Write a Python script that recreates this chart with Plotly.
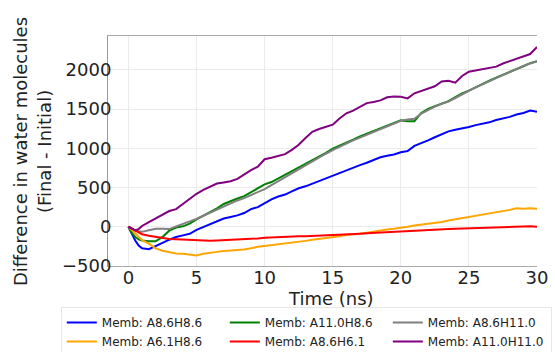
import plotly.graph_objects as go

time_ns = [0, 0.25, 0.5, 0.75, 1, 1.5, 2, 2.5, 3, 3.5, 4, 4.5, 5, 5.5, 6, 6.5, 7, 7.5, 8, 8.5,
           9, 9.5, 10, 10.5, 11, 11.5, 12, 12.5, 13, 13.5, 14, 14.5, 15, 15.5, 16, 16.5, 17,
           17.5, 18, 18.5, 19, 19.5, 20, 20.5, 21, 21.5, 22, 22.5, 23, 23.5, 24, 24.5, 25,
           25.5, 26, 26.5, 27, 27.5, 28, 28.5, 29, 29.5, 30]

a86h86 = [0, -90, -175, -240, -275, -285, -250, -205, -165, -130, -110, -90, -40, -5, 40, 75,
          105, 125, 145, 175, 225, 250, 300, 350, 385, 410, 450, 490, 515, 550, 585, 615, 650,
          690, 720, 760, 785, 815, 850, 885, 905, 920, 950, 965, 1030, 1060, 1100, 1140, 1180,
          1215, 1235, 1250, 1270, 1295, 1315, 1330, 1360, 1380, 1400, 1430, 1450, 1480, 1465]

a110h86 = [0, -80, -130, -160, -175, -185, -185, -130, -50, -10, 5, 40, 95, 140, 185, 235, 290,
           330, 360, 390, 440, 490, 540, 570, 615, 660, 710, 760, 800, 850, 890, 940, 995, 1030,
           1075, 1110, 1150, 1185, 1215, 1250, 1285, 1330, 1355, 1345, 1345, 1450, 1500, 1535,
           1570, 1600, 1650, 1700, 1735, 1780, 1820, 1860, 1900, 1935, 1970, 2005, 2045, 2085, 2110]

a86h110 = [0, -35, -50, -60, -65, -45, -25, -25, -30, 5, 35, 60, 100, 140, 180, 215, 265, 300,
           335, 365, 400, 435, 480, 530, 580, 630, 690, 735, 780, 830, 880, 930, 975, 1020, 1060,
           1100, 1135, 1170, 1205, 1240, 1280, 1320, 1350, 1365, 1375, 1440, 1490, 1530, 1565,
           1595, 1640, 1690, 1730, 1775, 1815, 1855, 1895, 1935, 1975, 2010, 2050, 2080, 2105]

a61h86 = [0, -45, -90, -135, -170, -215, -275, -305, -325, -340, -345, -355, -365, -345, -330,
          -320, -310, -305, -300, -290, -275, -255, -245, -235, -220, -210, -200, -190, -180,
          -165, -155, -145, -130, -120, -105, -100, -90, -75, -60, -45, -35, -25, -15, 0, 15, 25,
          35, 45, 60, 80, 95, 110, 120, 135, 150, 165, 185, 200, 215, 235, 230, 235, 230]

a86h61 = [0, -25, -45, -70, -95, -115, -130, -145, -155, -160, -165, -170, -172, -175, -178,
          -175, -172, -170, -165, -160, -155, -150, -140, -135, -132, -128, -125, -122, -120,
          -117, -113, -110, -106, -102, -98, -92, -88, -83, -78, -74, -70, -67, -63, -55, -45,
          -42, -38, -35, -32, -28, -25, -22, -20, -18, -15, -12, -8, -5, -3, 0, 3, 5, 0]

a110h110 = [0, -25, -45, -30, 10, 60, 110, 160, 200, 225, 290, 360, 420, 470, 510, 550, 565, 580,
            610, 670, 720, 765, 860, 880, 905, 925, 980, 1045, 1130, 1210, 1245, 1275, 1300, 1380,
            1445, 1480, 1530, 1575, 1590, 1610, 1650, 1660, 1655, 1635, 1700, 1730, 1765, 1790,
            1850, 1860, 1835, 1920, 1975, 1990, 2005, 2020, 2040, 2080, 2110, 2140, 2160, 2200, 2290]

series_names = ["Memb: A8.6H8.6", "Memb: A11.0H8.6", "Memb: A8.6H11.0",
                "Memb: A6.1H8.6", "Memb: A8.6H6.1", "Memb: A11.0H11.0"]
series_values = [a86h86, a110h86, a86h110, a61h86, a86h61, a110h110]
series_colors = ["blue", "green", "gray", "orange", "red", "purple"]

x_ticks = [0, 5, 10, 15, 20, 25, 30]
y_ticks = [-500, 0, 500, 1000, 1500, 2000]

fig = go.Figure()
for name, vals, col in zip(series_names, series_values, series_colors):
    fig.add_trace(go.Scatter(x=time_ns, y=vals, mode="lines", name=name,
                             line=dict(color=col, width=2)))

font = "DejaVu Sans, sans-serif"
fig.update_layout(
    width=555, height=352,
    template="plotly_white",
    paper_bgcolor="white", plot_bgcolor="white",
    margin=dict(l=108, r=18, t=36, b=86, autoexpand=False),
    font=dict(family=font, size=18, color="#222"),
    xaxis=dict(range=[-1.5, 30], tickvals=x_ticks, showgrid=True, gridcolor="#ebebeb",
               showline=True, linecolor="#aaaaaa", mirror=True, zeroline=False,
               ticks="", tickfont=dict(size=18), ticklabelstandoff=-5),
    yaxis=dict(range=[-500, 2430], tickvals=y_ticks, showgrid=True, gridcolor="#ebebeb",
               showline=True, linecolor="#999999", zeroline=False, ticks="",
               tickfont=dict(size=18), ticklabelstandoff=-8),
    legend=dict(orientation="h", x=-0.11, xanchor="left", y=-0.178, yanchor="top",
                font=dict(size=12, color="#222"), bordercolor="#e6e6e6", borderwidth=1,
                bgcolor="white", entrywidth=118, entrywidthmode="pixels", tracegroupgap=0),
    annotations=[
        dict(text="Time (ns)", xref="paper", yref="paper", x=0.52, y=-0.14,
             xanchor="center", yanchor="middle", showarrow=False,
             font=dict(size=18, color="#222")),
        dict(text="Difference in water molecules<br>(Final - Initial)", xref="paper",
             yref="paper", x=-0.177, y=0.496, xanchor="center", yanchor="middle",
             textangle=-90, showarrow=False, font=dict(size=18, color="#222")),
    ],
)

fig.write_html("out.html", config={"displayModeBar": False},
               post_script="document.body.style.margin='0';document.body.style.overflow='hidden';")
